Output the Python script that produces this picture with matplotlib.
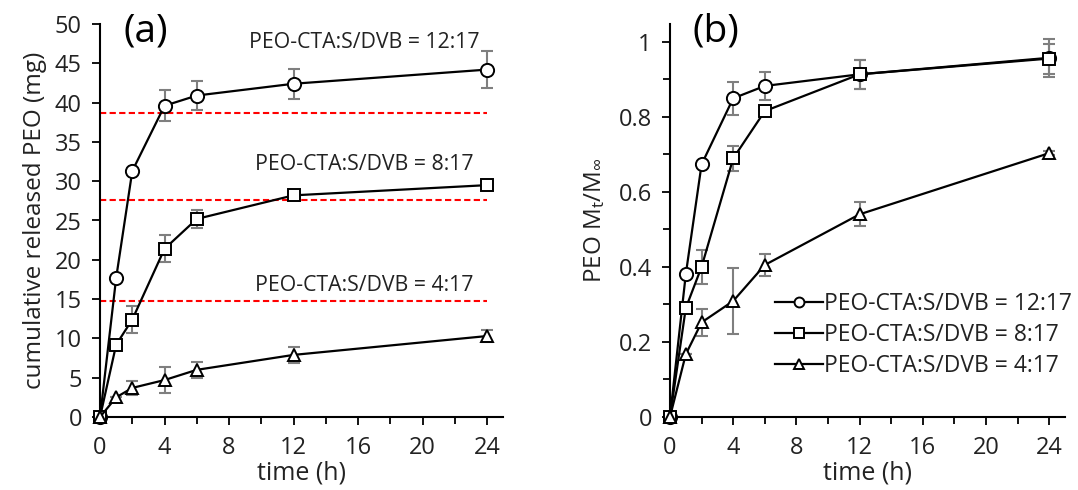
import matplotlib
matplotlib.use("Agg")
import matplotlib.pyplot as plt
from matplotlib.ticker import MultipleLocator

plt.rcParams['font.family'] = ['Open Sans', 'DejaVu Sans']
plt.rcParams['mathtext.fontset'] = 'custom'
plt.rcParams['mathtext.rm'] = 'Open Sans'
plt.rcParams['mathtext.it'] = 'Open Sans'

t = [0, 1, 2, 4, 6, 12, 24]
labels = ['PEO-CTA:S/DVB = 12:17', 'PEO-CTA:S/DVB = 8:17', 'PEO-CTA:S/DVB = 4:17']

# (a) cumulative released PEO, mg
mass_12 = [0, 17.7, 31.3, 39.6, 40.9, 42.4, 44.2]
mass_12_err = [0, 0, 0, 2.0, 1.8, 1.9, 2.4]
mass_8 = [0, 9.2, 12.4, 21.4, 25.2, 28.2, 29.5]
mass_8_err = [0, 0, 1.7, 1.7, 1.1, 0.5, 0.4]
mass_4 = [0, 2.5, 3.7, 4.7, 6.0, 7.9, 10.3]
mass_4_err = [0, 0, 0.9, 1.6, 1.0, 1.0, 0.8]
loaded = [38.7, 27.6, 14.8]   # red dashed reference levels
label_y = [47.6, 32.1, 16.7]

# (b) fractional release Mt/Minf
frac_12 = [0, 0.380, 0.673, 0.849, 0.882, 0.913, 0.957]
frac_12_err = [0, 0, 0, 0.044, 0.038, 0.038, 0.05]
frac_8 = [0, 0.290, 0.400, 0.689, 0.815, 0.913, 0.955]
frac_8_err = [0, 0, 0.045, 0.034, 0.01, 0.038, 0.04]
frac_4 = [0, 0.167, 0.252, 0.309, 0.405, 0.540, 0.703]
frac_4_err = [0, 0, 0.037, 0.088, 0.03, 0.032, 0.006]

markers = ['o', 's', '^']
msizes = [9.5, 9, 9]
txt = '#222222'

fig = plt.figure(figsize=(10.78, 4.9), dpi=100)
ax1 = fig.add_axes([0.0928, 0.149, 0.374, 0.802])
ax2 = fig.add_axes([0.6215, 0.149, 0.3665, 0.802])

def draw(ax, ys, errs):
    for y, e, m, ms, lab in zip(ys, errs, markers, msizes, labels):
        ax.errorbar(t, y, yerr=e, fmt='none', ecolor='#7f7f7f', elinewidth=1.5,
                    capsize=4, capthick=1.5, zorder=2)
        ax.plot(t, y, color='black', lw=1.6, marker=m, ms=ms, mfc='white',
                mec='black', mew=1.4, label=lab, zorder=3, clip_on=False)

draw(ax1, [mass_12, mass_8, mass_4], [mass_12_err, mass_8_err, mass_4_err])
for lvl in loaded:
    ax1.plot([0, 24], [lvl, lvl], color='red', ls='--', lw=1.5, dashes=(3, 1.6), zorder=1)
for lab, yy in zip(labels, label_y):
    ax1.text(16.4, yy, lab, ha='center', va='center', fontsize=15.3, color=txt)
ax1.set_ylim(0, 50)
ax1.yaxis.set_major_locator(MultipleLocator(5))
ax1.set_ylabel('cumulative released PEO (mg)', fontsize=17.5, color=txt, labelpad=6)
ax1.text(0.058, 1.03, '(a)', transform=ax1.transAxes, fontsize=28, va='top', color='black')

draw(ax2, [frac_12, frac_8, frac_4], [frac_12_err, frac_8_err, frac_4_err])
ax2.set_ylim(0, 1.047)
ax2.yaxis.set_major_locator(MultipleLocator(0.2))
ax2.yaxis.set_minor_locator(MultipleLocator(0.1))
ax2.yaxis.set_major_formatter(matplotlib.ticker.FuncFormatter(lambda v, p: '%g' % round(v, 1)))
ax2.set_ylabel(r'PEO M$_{t}$/M$_{\infty}$', fontsize=17.5, color=txt, labelpad=8)
ax2.text(0.058, 1.03, '(b)', transform=ax2.transAxes, fontsize=28, va='top', color='black')
ax2.legend(loc='center left', bbox_to_anchor=(0.266, 0.209), frameon=False, fontsize=16.5,
           handlelength=2.1, handletextpad=0.05, labelspacing=0.3, borderaxespad=0,
           borderpad=0, markerscale=0.75, labelcolor=txt)

for ax in (ax1, ax2):
    ax.set_xlim(0, 25)
    ax.xaxis.set_major_locator(MultipleLocator(4))
    ax.xaxis.set_minor_locator(MultipleLocator(2))
    ax.set_xlabel('time (h)', fontsize=18, labelpad=0, color=txt)
    ax.spines['top'].set_visible(False)
    ax.spines['right'].set_visible(False)
    ax.spines['left'].set_linewidth(1.5)
    ax.spines['bottom'].set_linewidth(1.5)
    ax.tick_params(which='major', length=6, width=1.3, labelsize=17, labelcolor=txt)
    ax.tick_params(which='minor', length=5, width=1.3)
    ax.tick_params(axis='x', pad=8)
    ax.tick_params(axis='y', pad=7)

fig.savefig('out.png', dpi=100)
